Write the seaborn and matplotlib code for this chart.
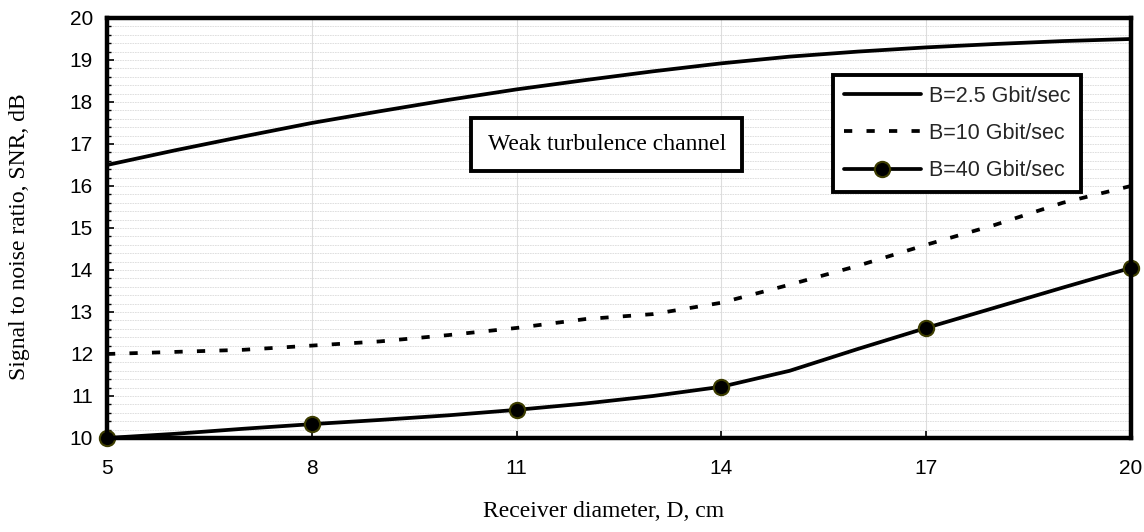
import numpy as np
import pandas as pd
import matplotlib
matplotlib.use("Agg")
import matplotlib.pyplot as plt
from matplotlib.ticker import MultipleLocator
import seaborn as sns

# Receiver diameter (cm) and SNR (dB) for three bit rates
diameter = [5, 6, 7, 8, 9, 10, 11, 12, 13, 14, 15, 16, 17, 18, 19, 20]
snr_2g5 = [16.5, 16.85, 17.18, 17.5, 17.78, 18.05, 18.3, 18.52, 18.73, 18.92,
           19.08, 19.2, 19.3, 19.38, 19.45, 19.5]
snr_10g = [12.0, 12.05, 12.1, 12.2, 12.3, 12.45, 12.62, 12.83, 12.95, 13.22,
           13.65, 14.1, 14.6, 15.07, 15.6, 16.0]
snr_40g = [10.0, 10.1, 10.22, 10.33, 10.43, 10.54, 10.67, 10.82, 11.0, 11.22,
           11.6, 12.12, 12.62, 13.1, 13.58, 14.05]

labels = ["B=2.5 Gbit/sec", "B=10 Gbit/sec", "B=40 Gbit/sec"]
x_ticks = [5, 8, 11, 14, 17, 20]
annotation = "Weak turbulence channel"

sns.set_theme(style="white")
plt.rcParams["font.family"] = ["Liberation Sans", "DejaVu Sans"]
serif = ["Liberation Serif", "DejaVu Serif"]

df = pd.DataFrame({
    "D": diameter * 3,
    "SNR": snr_2g5 + snr_10g + snr_40g,
    "B": [labels[0]] * len(diameter) + [labels[1]] * len(diameter) + [labels[2]] * len(diameter),
})

fig = plt.figure(figsize=(11.44, 5.32), dpi=100)
ax = fig.add_axes([0.0935, 0.1767, 0.8951, 0.7895])

lw = 2.7
sns.lineplot(data=df[df.B == labels[0]], x="D", y="SNR", ax=ax, color="black",
             linewidth=lw, label=labels[0])
sns.lineplot(data=df[df.B == labels[1]], x="D", y="SNR", ax=ax, color="black",
             linewidth=lw, label=labels[1])
ax.lines[-1].set_dashes((2.2, 3.8))
sns.lineplot(data=df[df.B == labels[2]], x="D", y="SNR", ax=ax, color="black",
             linewidth=lw, label=labels[2], marker="o", markersize=11,
             markerfacecolor="black", markeredgecolor="#3d3d00",
             markeredgewidth=1.5, markevery=3)
for ln in ax.lines:
    ln.set_clip_on(False)

ax.set_xlim(5, 20)
ax.set_ylim(10, 20)
ax.set_xticks(x_ticks)
ax.yaxis.set_major_locator(MultipleLocator(1))
ax.yaxis.set_minor_locator(MultipleLocator(0.2))

ax.grid(False)
ax.xaxis.grid(True, which="major", color="#dddddd", linewidth=0.8)
ax.yaxis.grid(True, which="both", color="#dadada", linewidth=0.6, linestyle=(0, (2, 1)))
ax.set_axisbelow(True)

for s in ax.spines.values():
    s.set_visible(True)
    s.set_color("black")
    s.set_linewidth(3.2)

ax.tick_params(axis="both", which="major", direction="in", length=5, width=1.2,
               color="black", labelsize=15, colors="black")
ax.tick_params(axis="y", which="minor", direction="in", length=3, width=1, color="black", left=True)
ax.tick_params(axis="x", which="major", pad=15, bottom=True)
ax.tick_params(axis="y", which="major", pad=10, left=True)

ax.set_xlabel("Receiver diameter, D, cm", family=serif, fontsize=17, color="black", va="center")
ax.xaxis.set_label_coords(0.485, -0.176)
ax.set_ylabel("Signal to noise ratio, SNR, dB", family=serif, fontsize=17, color="black", va="center")
ax.yaxis.set_label_coords(-0.085, 0.48)

ax.text(12.32, 16.98, annotation, family=serif, fontsize=17, ha="center", va="center",
        color="black",
        bbox=dict(boxstyle="square,pad=0.68", facecolor="white", edgecolor="black", linewidth=2.8))

leg = ax.legend(loc="upper left", bbox_to_anchor=(0.709, 0.864), fontsize=15.5,
                handlelength=3.6, frameon=True, fancybox=False, framealpha=1,
                borderpad=0.5, labelspacing=0.75, handletextpad=0.37, borderaxespad=0)
leg.get_frame().set_edgecolor("black")
leg.get_frame().set_linewidth(2.8)

fig.savefig("out.png", dpi=100)
